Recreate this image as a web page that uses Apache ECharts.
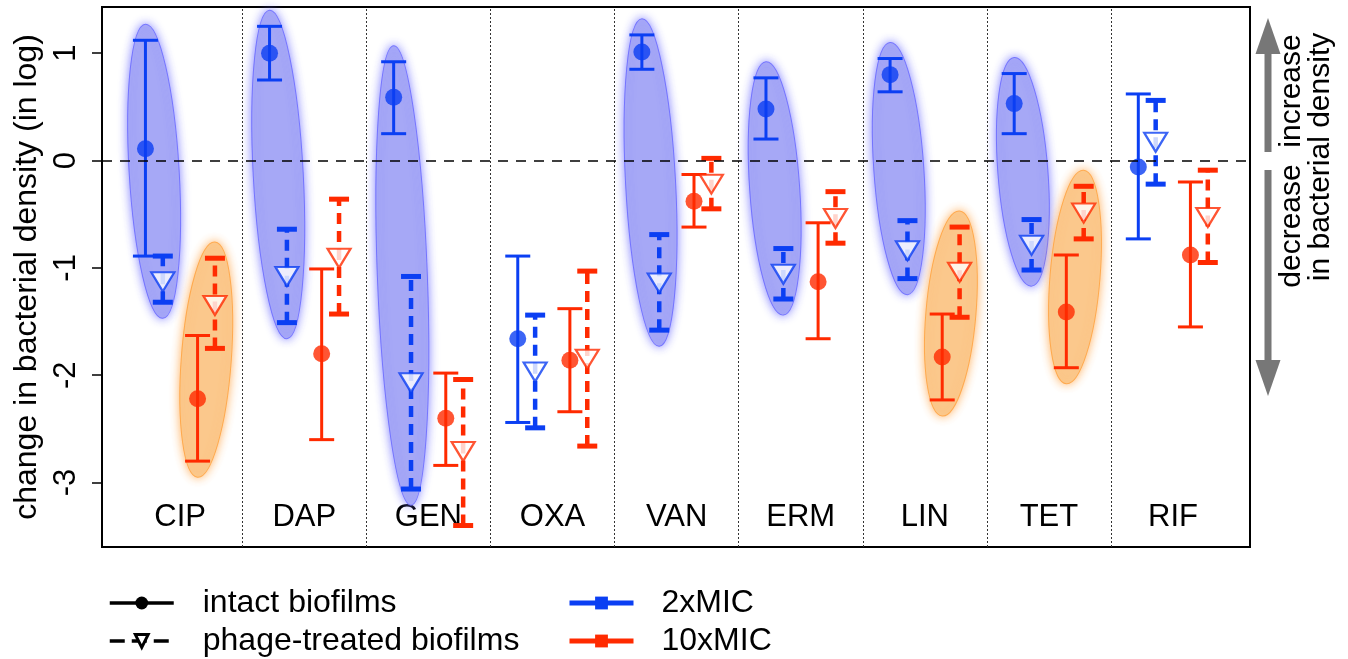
<!DOCTYPE html>
<html>
<head>
<meta charset="utf-8">
<script src="https://cdn.jsdelivr.net/npm/echarts@6/dist/echarts.min.js"></script>
<style>
  html, body { margin: 0; padding: 0; background: #fff; }
  #chart { width: 1348px; height: 659px; }
</style>
</head>
<body>
<div id="chart"></div>
<script>
const categories = ['CIP', 'DAP', 'GEN', 'OXA', 'VAN', 'ERM', 'LIN', 'TET', 'RIF'];

// intact biofilms, 2xMIC (mean, lower and upper end of the error bar)
const intact2x     = [0.11, 1.00, 0.59, -1.66, 1.01, 0.48, 0.80, 0.53, -0.06];
const intact2xLow  = [-0.89, 0.75, 0.25, -2.44, 0.85, 0.20, 0.64, 0.25, -0.73];
const intact2xHigh = [1.12, 1.25, 0.92, -0.89, 1.17, 0.77, 0.95, 0.81, 0.62];
// phage-treated biofilms, 2xMIC
const phage2x      = [-1.13, -1.08, -2.07, -1.97, -1.14, -1.06, -0.84, -0.79, 0.17];
const phage2xLow   = [-1.32, -1.51, -3.06, -2.49, -1.58, -1.29, -1.10, -1.02, -0.22];
const phage2xHigh  = [-0.89, -0.64, -1.08, -1.44, -0.69, -0.82, -0.56, -0.55, 0.56];
// intact biofilms, 10xMIC
const intact10x     = [-2.22, -1.80, -2.40, -1.86, -0.38, -1.13, -1.83, -1.41, -0.88];
const intact10xLow  = [-2.80, -2.60, -2.84, -2.34, -0.62, -1.66, -2.23, -1.93, -1.55];
const intact10xHigh = [-1.63, -1.01, -1.98, -1.38, -0.13, -0.58, -1.43, -0.88, -0.20];
// phage-treated biofilms, 10xMIC
const phage10x      = [-1.35, -0.91, -2.71, -1.85, -0.22, -0.54, -1.04, -0.49, -0.53];
const phage10xLow   = [-1.75, -1.43, -3.40, -2.66, -0.45, -0.77, -1.46, -0.73, -0.95];
const phage10xHigh  = [-0.91, -0.36, -2.04, -1.03, 0.02, -0.29, -0.62, -0.24, -0.09];

// highlighted pairs (shaded ellipses)
const blueEllipse   = [1, 1, 1, 0, 1, 1, 1, 1, 0];
const orangeEllipse = [1, 0, 0, 0, 0, 0, 1, 1, 0];

const yTicks = [-3, -2, -1, 0, 1];

const BLUE = '#0b3ff3';
const RED = '#ff2a00';
const FONT = 'Liberation Sans';
const offsets = [-0.28, -0.14, 0.14, 0.28];

function rows(mean, lo, hi, off) {
  return categories.map((c, i) => [i + 1 + off, mean[i], lo[i], hi[i]]);
}

function ellipseRows(flags, mA, loA, hiA, offA, mB, loB, hiB, offB) {
  const out = [];
  flags.forEach((f, i) => {
    if (!f) return;
    const aUp = mA[i] > mB[i];
    const top = aUp ? [i + 1 + offA, hiA[i]] : [i + 1 + offB, hiB[i]];
    const bot = aUp ? [i + 1 + offB, loB[i]] : [i + 1 + offA, loA[i]];
    out.push([top[0], top[1] + 0.15, bot[0], bot[1] - 0.15]);
  });
  return out;
}

function errorBars(dashed, color) {
  return function (params, api) {
    const x = api.value(0);
    const lo = api.coord([x, api.value(2)]);
    const hi = api.coord([x, api.value(3)]);
    const half = dashed ? 10 : 12.5;
    const capStyle = { stroke: color, lineWidth: dashed ? 5 : 3 };
    return {
      type: 'group',
      children: [
        { type: 'line', shape: { x1: lo[0], y1: lo[1], x2: hi[0], y2: hi[1] },
          style: { stroke: color, lineWidth: dashed ? 4.5 : 3, lineDash: dashed ? [11, 7] : null } },
        { type: 'line', shape: { x1: lo[0] - half, y1: lo[1], x2: lo[0] + half, y2: lo[1] }, style: capStyle },
        { type: 'line', shape: { x1: hi[0] - half, y1: hi[1], x2: hi[0] + half, y2: hi[1] }, style: capStyle }
      ]
    };
  };
}

function ellipseItem(fill, glow) {
  return function (params, api) {
    const p1 = api.coord([api.value(0), api.value(1)]);
    const p2 = api.coord([api.value(2), api.value(3)]);
    const dx = p2[0] - p1[0], dy = p2[1] - p1[1];
    const len = Math.sqrt(dx * dx + dy * dy);
    return {
      type: 'ellipse',
      x: (p1[0] + p2[0]) / 2,
      y: (p1[1] + p2[1]) / 2,
      rotation: -Math.atan2(dy, dx),
      shape: { cx: 0, cy: 0, rx: len / 2, ry: 25 },
      style: { fill: fill, stroke: glow, lineWidth: 1, shadowBlur: 10, shadowColor: glow }
    };
  };
}

function barSeries(name, data, dashed, color) {
  return {
    type: 'custom', name: name + ' bars', z: 3, silent: true,
    encode: { x: 0, y: [1, 2, 3] },
    renderItem: errorBars(dashed, color),
    data: data
  };
}

function pointSeries(data, dashed, color) {
  return {
    type: 'scatter', z: 4, silent: true,
    symbol: dashed ? 'triangle' : 'circle',
    symbolRotate: dashed ? 180 : 0,
    symbolSize: dashed ? [23, 19] : 17,
    itemStyle: dashed ? { color: '#fff', borderColor: color, borderWidth: 2.2 } : { color: color },
    data: data.map(d => [d[0], d[1]])
  };
}

const i2 = rows(intact2x, intact2xLow, intact2xHigh, offsets[0]);
const p2 = rows(phage2x, phage2xLow, phage2xHigh, offsets[1]);
const i10 = rows(intact10x, intact10xLow, intact10xHigh, offsets[2]);
const p10 = rows(phage10x, phage10xLow, phage10xHigh, offsets[3]);

const chart = echarts.init(document.getElementById('chart'));

const legendText = { fontFamily: FONT, fontSize: 32, lineHeight: 36, color: '#000' };

const option = {
  animation: false,
  grid: { left: 102, right: 98, top: 7, bottom: 112, show: true, borderColor: '#000', borderWidth: 2 },
  xAxis: {
    type: 'value', min: 0.37, max: 9.62,
    axisLine: { show: false }, axisTick: { show: false }, splitLine: { show: false },
    axisLabel: {
      inside: true, margin: 14, customValues: categories.map((c, i) => i + 1),
      formatter: v => categories[Math.round(v) - 1],
      fontFamily: FONT, fontSize: 31, color: '#000'
    }
  },
  yAxis: {
    type: 'value', min: -3.6, max: 1.43,
    name: 'change in bacterial density (in log)',
    nameLocation: 'middle', nameGap: 56, nameRotate: 90,
    nameTextStyle: { fontFamily: FONT, fontSize: 32, color: '#000' },
    axisLine: { show: true, lineStyle: { color: '#000', width: 1.5 } },
    axisTick: { show: true, length: 10, customValues: yTicks, lineStyle: { color: '#000', width: 1.5 } },
    axisLabel: { customValues: yTicks, rotate: 90, margin: 20, fontFamily: FONT, fontSize: 31, color: '#000' },
    splitLine: { show: false }
  },
  legend: [
    {
      data: [
        { name: 'intact biofilms' },
        { name: 'phage-treated biofilms', lineStyle: { type: [15, 7] }, itemStyle: { borderWidth: 3 } }
      ],
      orient: 'vertical', left: 108, top: 585, height: 100, padding: 0,
      itemWidth: 64, itemHeight: 16, itemGap: 2,
      selectedMode: false, lineStyle: { width: 3.5 },
      textStyle: Object.assign({ padding: [0, 0, 0, 24] }, legendText)
    },
    {
      data: ['2xMIC', '10xMIC'],
      orient: 'vertical', left: 567, top: 585, height: 100, padding: 0,
      itemWidth: 64, itemHeight: 16, itemGap: 2,
      selectedMode: false, lineStyle: { width: 5 },
      textStyle: Object.assign({ padding: [0, 0, 0, 23] }, legendText)
    }
  ],
  graphic: [
    { type: 'rect', shape: { x: 1264.5, y: 50, width: 7, height: 102 }, style: { fill: '#777' } },
    { type: 'polygon', shape: { points: [[1268, 18], [1255.5, 54], [1280.5, 54]] }, style: { fill: '#777' } },
    { type: 'rect', shape: { x: 1264.5, y: 170, width: 7, height: 192 }, style: { fill: '#777' } },
    { type: 'polygon', shape: { points: [[1268, 396], [1255.5, 360], [1280.5, 360]] }, style: { fill: '#777' } },
    { type: 'text', x: 1292, y: 91, rotation: Math.PI / 2,
      style: { text: 'increase', font: '30px "Liberation Sans"', fill: '#000', align: 'center', verticalAlign: 'middle' } },
    { type: 'text', x: 1292, y: 226, rotation: Math.PI / 2,
      style: { text: 'decrease', font: '30px "Liberation Sans"', fill: '#000', align: 'center', verticalAlign: 'middle' } },
    { type: 'text', x: 1321, y: 157, rotation: Math.PI / 2,
      style: { text: 'in bacterial density', font: '30px "Liberation Sans"', fill: '#000', align: 'center', verticalAlign: 'middle' } }
  ],
  series: [
    {
      type: 'custom', z: 1, silent: true, encode: { x: [0, 2], y: [1, 3] },
      renderItem: ellipseItem('rgba(168,170,246,0.95)', 'rgba(110,110,255,0.9)'),
      data: ellipseRows(blueEllipse, intact2x, intact2xLow, intact2xHigh, offsets[0],
        phage2x, phage2xLow, phage2xHigh, offsets[1])
    },
    {
      type: 'custom', z: 1, silent: true, encode: { x: [0, 2], y: [1, 3] },
      renderItem: ellipseItem('rgba(251,201,142,0.95)', 'rgba(255,165,70,0.9)'),
      data: ellipseRows(orangeEllipse, intact10x, intact10xLow, intact10xHigh, offsets[2],
        phage10x, phage10xLow, phage10xHigh, offsets[3])
    },
    {
      // separators and zero line
      type: 'line', data: [], z: 2, silent: true,
      markLine: {
        silent: true, symbol: 'none', label: { show: false },
        data: categories.slice(1).map((c, i) => ({ xAxis: i + 1.5, lineStyle: { type: [2, 2], color: '#333', width: 1 } }))
          .concat([{ yAxis: 0, lineStyle: { type: [10, 8], color: '#000', width: 1.5 } }])
      }
    },
    barSeries('i2', i2, false, BLUE),
    barSeries('p2', p2, true, BLUE),
    barSeries('i10', i10, false, RED),
    barSeries('p10', p10, true, RED),
    pointSeries(i2, false, BLUE),
    pointSeries(p2, true, BLUE),
    pointSeries(i10, false, RED),
    pointSeries(p10, true, RED),
    { name: 'intact biofilms', type: 'line', data: [], symbol: 'circle', symbolSize: 12,
      lineStyle: { color: '#000', width: 3 }, itemStyle: { color: '#000' } },
    { name: 'phage-treated biofilms', type: 'line', data: [], symbol: 'triangle', symbolRotate: 180, symbolSize: 14,
      lineStyle: { color: '#000', width: 3, type: [6, 4] }, itemStyle: { color: '#fff', borderColor: '#000', borderWidth: 2.5 } },
    { name: '2xMIC', type: 'line', data: [], symbol: 'rect', symbolSize: 12,
      lineStyle: { color: BLUE, width: 4 }, itemStyle: { color: BLUE } },
    { name: '10xMIC', type: 'line', data: [], symbol: 'rect', symbolSize: 12,
      lineStyle: { color: RED, width: 4 }, itemStyle: { color: RED } }
  ]
};

chart.setOption(option);
window.addEventListener('resize', () => chart.resize());
</script>
</body>
</html>
